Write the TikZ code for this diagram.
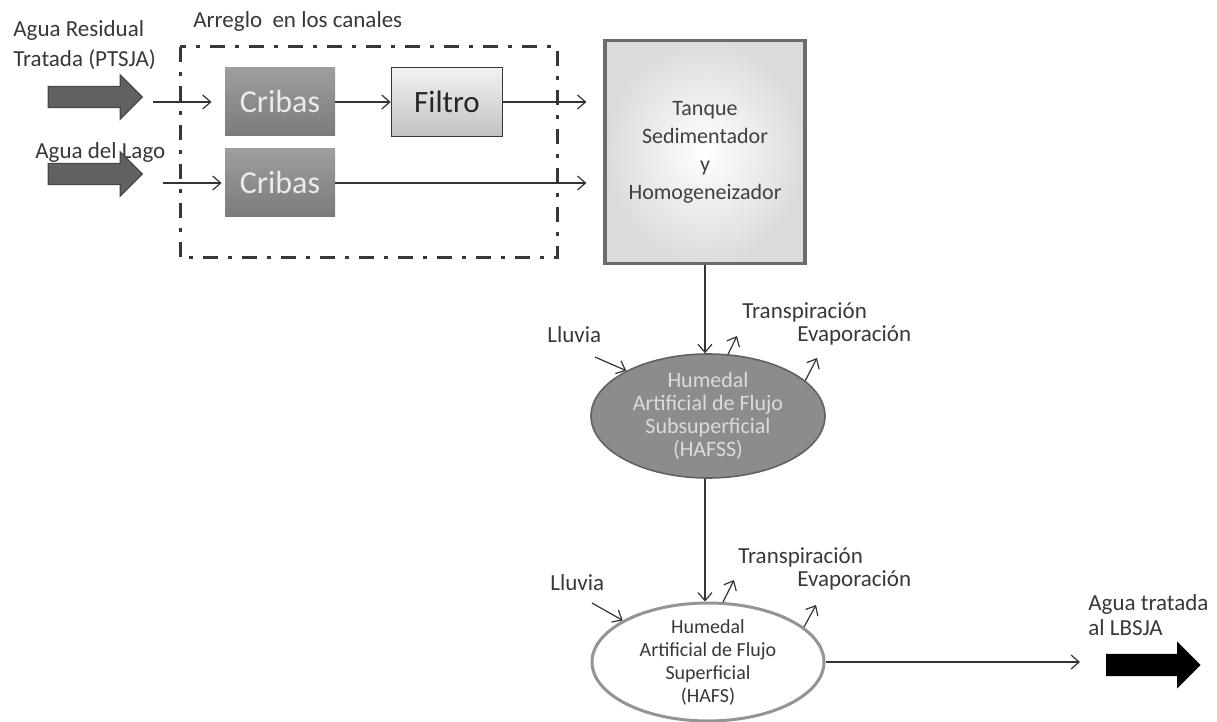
\documentclass[tikz,border=0pt]{standalone}
\usepackage{fontspec}
\setmainfont{Carlito}
\usetikzlibrary{arrows.meta,shapes.geometric,shapes.arrows}

\tikzset{
  flecha/.style={draw=black!80, line width=0.6pt, -{Straight Barb[length=4pt,width=7pt]}},
  etiqueta/.style={font=\fontsize{11.5}{15}\selectfont, text=black!78, inner sep=0pt},
  entrada/.style={single arrow, single arrow head extend=5.75pt, minimum height=47pt,
    inner xsep=0pt, inner ysep=5pt, fill=black!62, draw=black!72, line width=0.6pt},
  cribas/.style={rectangle, minimum width=55pt, minimum height=34pt, top color=black!38,
    bottom color=black!52, text=black!8, font=\fontsize{16}{18}\selectfont},
  filtro/.style={rectangle, minimum width=55.5pt, minimum height=34.5pt, top color=black!5,
    bottom color=black!24, draw=black!78, line width=0.8pt, text=black!85,
    font=\fontsize{15.5}{18}\selectfont},
  tanque/.style={rectangle, minimum width=100pt, minimum height=111.5pt, inner color=white,
    outer color=black!14, draw=black!58, line width=1.6pt, align=center, text=black!75,
    font=\fontsize{11}{14}\selectfont},
  humedal/.style={ellipse, inner xsep=0pt, inner ysep=-4pt, align=center},
  marco/.style={draw=black!78, line width=1.5pt, dash pattern=on 7.5pt off 5pt on 2pt off 5pt}
}

\begin{document}
\begin{tikzpicture}[x=0.5pt,y=-0.5pt]
  \useasboundingbox (0,0) rectangle (1217,722);
  % Entradas
  \node[etiqueta, anchor=base west, align=left] (residual) at (13,67) {Agua Residual\\Tratada (PTSJA)};
  \node[etiqueta, anchor=base west] (lago) at (35,159) {Agua del Lago};
  \node[entrada] (entrada1) at (90,97) {};
  \node[entrada] (entrada2) at (90,174) {};
  % Arreglo en los canales
  \node[etiqueta, anchor=base west] (arreglo) at (193,28) {Arreglo\ \ en los canales};
  \draw[marco] (180,47) rectangle (557,258);
  \node[cribas] (cribas1) at (280,102) {Cribas};
  \node[cribas] (cribas2) at (280,183) {Cribas};
  \node[filtro] (filtro) at (447,102) {Filtro};
  % Tanque
  \node[tanque] (tanque) at (705,152) {Tanque\\Sedimentador\\y\\Homogeneizador};
  % Humedales
  \node[humedal, minimum width=117pt, minimum height=62pt, fill=black!45, draw=black!62,
    line width=0.8pt, text=black!14, font=\fontsize{11}{11.5}\selectfont] (hafss) at (708,416)
    {Humedal\\Artificial de Flujo\\Subsuperficial\\(HAFSS)};
  \node[humedal, minimum width=116pt, minimum height=59pt, fill=white, draw=black!42,
    line width=1.5pt, text=black!78, font=\fontsize{10}{11.5}\selectfont] (hafs) at (708,662)
    {Humedal\\Artificial de Flujo\\Superficial\\(HAFS)};
  % Salida
  \node[etiqueta, anchor=base west, align=left, font=\fontsize{11.5}{12.5}\selectfont] (tratada) at (1088,635) {Agua tratada\\al LBSJA};
  \node[entrada, fill=black, draw=black, minimum height=46.5pt] (salida) at (1148,665) {};
  \coordinate (fin) at (1080,662);
  % Lluvia, transpiracion y evaporacion
  \node[etiqueta, anchor=base west] (lluvia1) at (547,343) {Lluvia};
  \node[etiqueta, anchor=base west] (transp1) at (742,318) {Transpiración};
  \node[etiqueta, anchor=base west] (evap1) at (797,342) {Evaporación};
  \node[etiqueta, anchor=base west] (lluvia2) at (550,590) {Lluvia};
  \node[etiqueta, anchor=base west] (transp2) at (738,563) {Transpiración};
  \node[etiqueta, anchor=base west] (evap2) at (797,586) {Evaporación};
  \coordinate (ll1) at (595,357);
  \coordinate (t1) at (737,336);
  \coordinate (e1) at (817,358);
  \coordinate (ll2) at (592,603);
  \coordinate (t2) at (734,580);
  \coordinate (e2) at (816,605);
  % Conexiones
  \draw[flecha, shorten <=5pt, shorten >=6.5pt] (entrada1.east |- cribas1) -- (cribas1);
  \draw[flecha, shorten <=10pt, shorten >=1.5pt] (entrada2.east |- cribas2) -- (cribas2);
  \draw[flecha] (cribas1) -- (filtro);
  \draw[flecha, shorten >=8.5pt] (filtro) -- (filtro -| tanque.west);
  \draw[flecha, shorten >=8.5pt] (cribas2) -- (cribas2 -| tanque.west);
  \draw[flecha] (tanque) -- (tanque |- hafss.north);
  \draw[flecha] (tanque |- hafss.south) -- (tanque |- hafs.north);
  \draw[flecha] (hafs) -- (fin);
  \draw[flecha] (ll1) -- (hafss.151);
  \draw[flecha] (hafss.72) -- (t1);
  \draw[flecha] (hafss.20) -- (e1);
  \draw[flecha] (ll2) -- (hafs.154);
  \draw[flecha] (hafs.76) -- (t2);
  \draw[flecha] (hafs.20) -- (e2);
\end{tikzpicture}
\end{document}
